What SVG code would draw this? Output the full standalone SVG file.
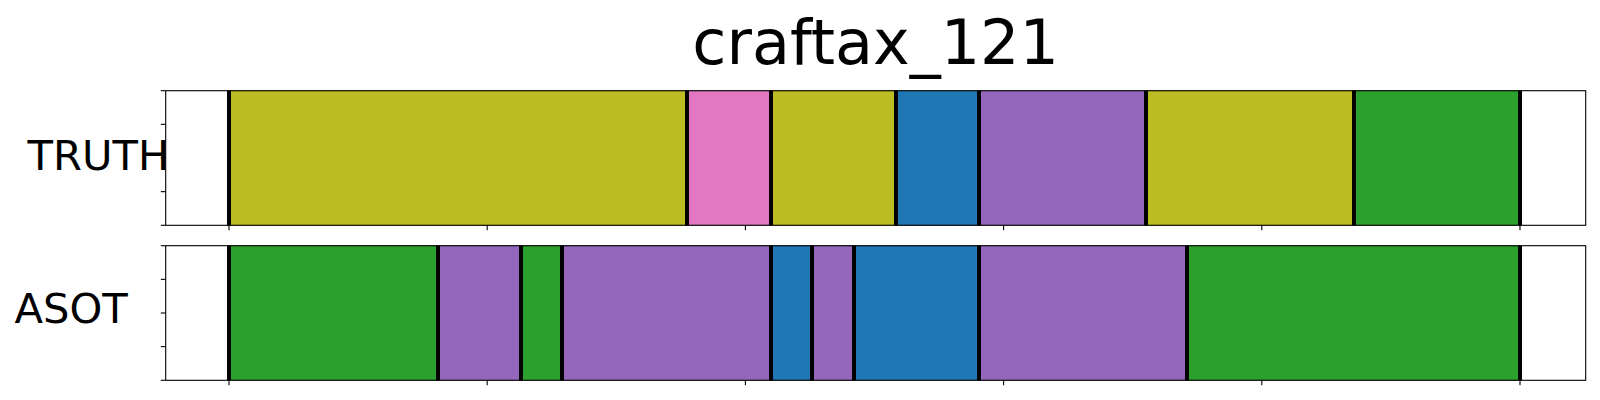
<svg xmlns="http://www.w3.org/2000/svg" width="1600" height="400" viewBox="0 0 1600 400">
<style>
.olive{fill:#bcbd22}
.pink{fill:#e377c2}
.blue{fill:#1f77b4}
.purple{fill:#9467bd}
.green{fill:#2ca02c}
.seg{stroke:#000;stroke-opacity:0.18;stroke-width:1}
.bnd{stroke:#000;stroke-width:4}
.spine{fill:none;stroke:#000;stroke-width:1.1}
.tick{stroke:#000;stroke-width:1.1}
.lbl{font-family:"DejaVu Sans","Liberation Sans",sans-serif;fill:#000}
</style>
<rect width="1600" height="400" fill="#fff"/>
<text id="title" class="lbl" x="875.7" y="64" font-size="62" text-anchor="middle">craftax_121</text>

<g id="truth">
<rect class="seg olive" x="229" y="90.7" width="458" height="134.6"/>
<rect class="seg pink" x="687" y="90.7" width="84" height="134.6"/>
<rect class="seg olive" x="771" y="90.7" width="125" height="134.6"/>
<rect class="seg blue" x="896" y="90.7" width="83" height="134.6"/>
<rect class="seg purple" x="979" y="90.7" width="167" height="134.6"/>
<rect class="seg olive" x="1146" y="90.7" width="208" height="134.6"/>
<rect class="seg green" x="1354" y="90.7" width="166" height="134.6"/>
<g class="bnd">
<line x1="229" y1="90.7" x2="229" y2="225.3"/>
<line x1="687" y1="90.7" x2="687" y2="225.3"/>
<line x1="771" y1="90.7" x2="771" y2="225.3"/>
<line x1="896" y1="90.7" x2="896" y2="225.3"/>
<line x1="979" y1="90.7" x2="979" y2="225.3"/>
<line x1="1146" y1="90.7" x2="1146" y2="225.3"/>
<line x1="1354" y1="90.7" x2="1354" y2="225.3"/>
<line x1="1520" y1="90.7" x2="1520" y2="225.3"/>
</g>
<rect class="spine" x="165.7" y="90.7" width="1420" height="134.6"/>
<g class="tick">
<line x1="160.8" y1="90.7" x2="165.7" y2="90.7"/>
<line x1="160.8" y1="124.35" x2="165.7" y2="124.35"/>
<line x1="160.8" y1="158" x2="165.7" y2="158"/>
<line x1="160.8" y1="191.65" x2="165.7" y2="191.65"/>
<line x1="160.8" y1="225.3" x2="165.7" y2="225.3"/>
<line x1="229" y1="225.3" x2="229" y2="230.2"/>
<line x1="487.2" y1="225.3" x2="487.2" y2="230.2"/>
<line x1="745.4" y1="225.3" x2="745.4" y2="230.2"/>
<line x1="1003.6" y1="225.3" x2="1003.6" y2="230.2"/>
<line x1="1261.8" y1="225.3" x2="1261.8" y2="230.2"/>
<line x1="1520" y1="225.3" x2="1520" y2="230.2"/>
</g>
<text class="lbl" x="27.5" y="169.5" font-size="41.7">TRUTH</text>
</g>

<g id="asot">
<rect class="seg green" x="229" y="245.7" width="209" height="134.6"/>
<rect class="seg purple" x="438" y="245.7" width="83" height="134.6"/>
<rect class="seg green" x="521" y="245.7" width="41" height="134.6"/>
<rect class="seg purple" x="562" y="245.7" width="209" height="134.6"/>
<rect class="seg blue" x="771" y="245.7" width="41" height="134.6"/>
<rect class="seg purple" x="812" y="245.7" width="42" height="134.6"/>
<rect class="seg blue" x="854" y="245.7" width="125" height="134.6"/>
<rect class="seg purple" x="979" y="245.7" width="208" height="134.6"/>
<rect class="seg green" x="1187" y="245.7" width="333" height="134.6"/>
<g class="bnd">
<line x1="229" y1="245.7" x2="229" y2="380.3"/>
<line x1="438" y1="245.7" x2="438" y2="380.3"/>
<line x1="521" y1="245.7" x2="521" y2="380.3"/>
<line x1="562" y1="245.7" x2="562" y2="380.3"/>
<line x1="771" y1="245.7" x2="771" y2="380.3"/>
<line x1="812" y1="245.7" x2="812" y2="380.3"/>
<line x1="854" y1="245.7" x2="854" y2="380.3"/>
<line x1="979" y1="245.7" x2="979" y2="380.3"/>
<line x1="1187" y1="245.7" x2="1187" y2="380.3"/>
<line x1="1520" y1="245.7" x2="1520" y2="380.3"/>
</g>
<rect class="spine" x="165.7" y="245.7" width="1420" height="134.6"/>
<g class="tick">
<line x1="160.8" y1="245.7" x2="165.7" y2="245.7"/>
<line x1="160.8" y1="279.35" x2="165.7" y2="279.35"/>
<line x1="160.8" y1="313" x2="165.7" y2="313"/>
<line x1="160.8" y1="346.65" x2="165.7" y2="346.65"/>
<line x1="160.8" y1="380.3" x2="165.7" y2="380.3"/>
<line x1="229" y1="380.3" x2="229" y2="385.2"/>
<line x1="487.2" y1="380.3" x2="487.2" y2="385.2"/>
<line x1="745.4" y1="380.3" x2="745.4" y2="385.2"/>
<line x1="1003.6" y1="380.3" x2="1003.6" y2="385.2"/>
<line x1="1261.8" y1="380.3" x2="1261.8" y2="385.2"/>
<line x1="1520" y1="380.3" x2="1520" y2="385.2"/>
</g>
<text class="lbl" x="14.5" y="322.7" font-size="41.7">ASOT</text>
</g>
<g id="connectors"/>
</svg>
